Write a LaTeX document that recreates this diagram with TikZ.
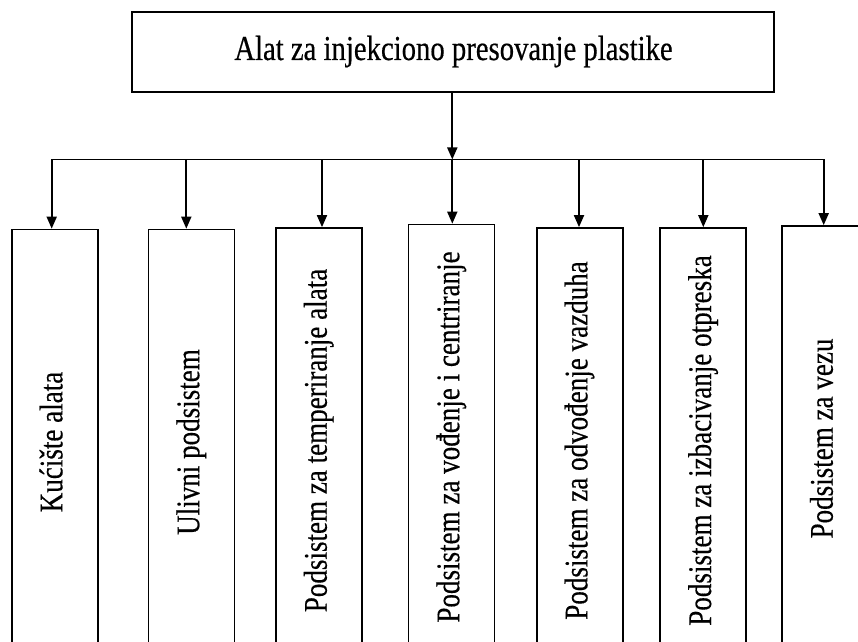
\documentclass[tikz,border=0pt]{standalone}
\usepackage{fontspec}
\setmainfont{Liberation Serif}[FakeStretch=0.82,FakeBold=0.4]
\usetikzlibrary{arrows.meta}
\tikzset{
  topbox/.style={draw, line width=1.7bp, minimum width=642bp, minimum height=80bp, inner sep=0pt},
  subbox/.style={draw, line width=1.7bp, rotate=90, minimum width=425bp, minimum height=86bp, inner sep=0pt,
    text height=22bp, text depth=6.6bp, font=\fontsize{33bp}{38bp}\selectfont},
  conn/.style={line width=1.8bp},
  arr/.style={conn, -{Triangle[length=12bp,width=10bp]}}
}
\begin{document}
\begin{tikzpicture}[x=1bp,y=-1bp]
\useasboundingbox (0,0) rectangle (858,642);
\clip (0,0) rectangle (858,642);
\node[topbox] (top) at (453.3,52.3) {};
\node[anchor=base, font=\fontsize{35bp}{40bp}\selectfont, inner sep=0pt] (toptext) at (453.5,60) {Alat za injekciono presovanje plastike};

\node[subbox] (b1) at (54.7,442) {Kućište alata};
\node[subbox] (b2) at (191.5,442) {Ulivni podsistem};
\node[subbox] (b3) at (319,440.5) {Podsistem za temperiranje alata};
\node[subbox] (b4) at (451.5,437) {Podsistem za vođenje i centriranje};
\node[subbox] (b5) at (579.7,440.5) {Podsistem za odvođenje vazduha};
\node[subbox] (b6) at (703.3,440.5) {Podsistem za izbacivanje otpreska};
\node[subbox] (b7) at (825,438.5) {Podsistem za vezu};

\coordinate (t1) at (51.7,159.5);
\coordinate (t2) at (186.3,159.5);
\coordinate (t3) at (322,159.5);
\coordinate (t4) at (452.3,159.5);
\coordinate (t5) at (579,159.5);
\coordinate (t6) at (703.3,159.5);
\coordinate (t7) at (823.7,159.5);

\draw[conn] (t1) -- (t7);
\draw[arr] (top.south -| t4) -- (t4);
\foreach \i in {1,...,7} {
  \draw[arr] (t\i) -- (t\i |- b\i.east);
}
\end{tikzpicture}
\end{document}
